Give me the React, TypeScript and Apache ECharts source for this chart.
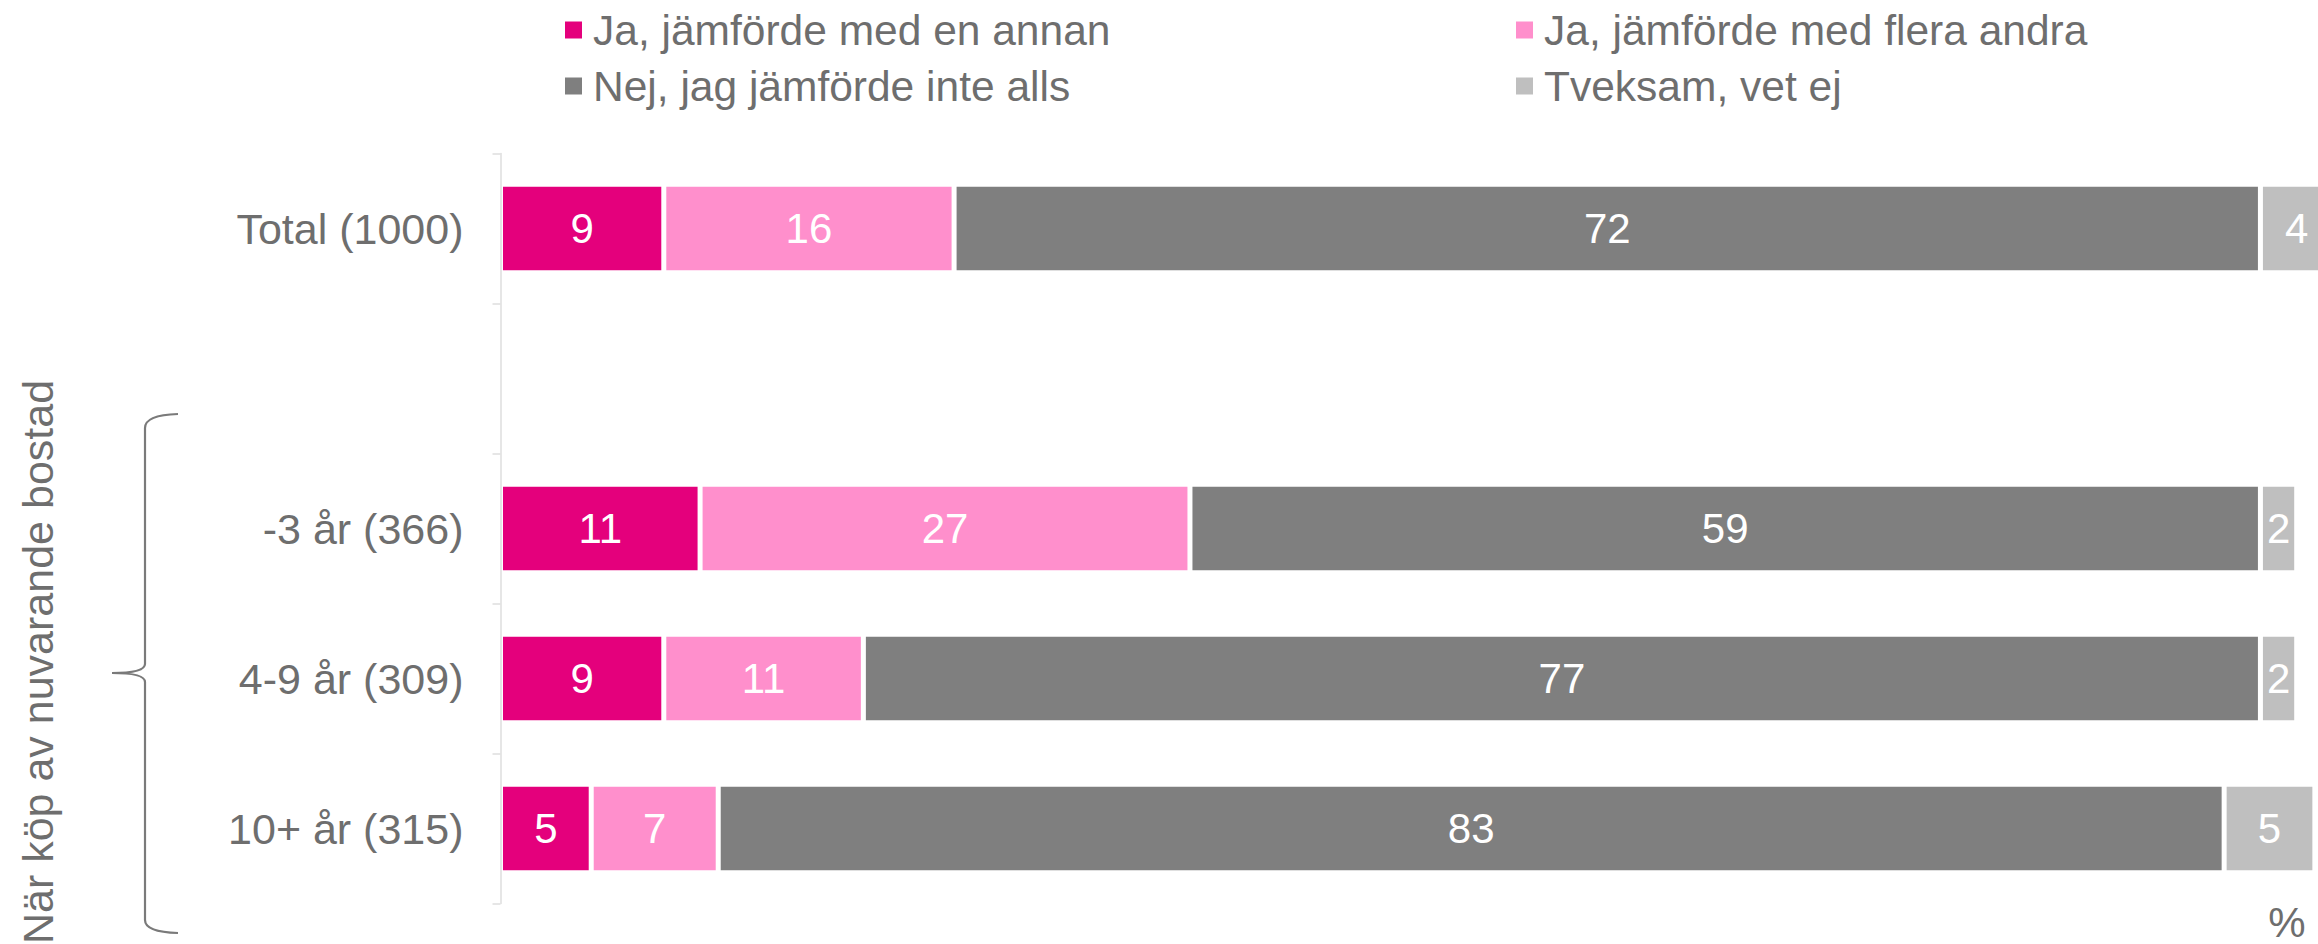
import React, { useEffect, useRef } from "react";
import * as echarts from "echarts";

const categories = ["Total (1000)", "", "-3 år (366)", "4-9 år (309)", "10+ år (315)"];
const seriesNames = [
  "Ja, jämförde med en annan",
  "Ja, jämförde med flera andra",
  "Nej, jag jämförde inte alls",
  "Tveksam, vet ej",
];
const jaEnAnnan = [9, null, 11, 9, 5];
const jaFleraAndra = [16, null, 27, 11, 7];
const nejInteAlls = [72, null, 59, 77, 83];
const tveksam = [4, null, 2, 2, 5];
const colors = ["#E4007C", "#FF8FCC", "#7F7F7F", "#BFBFBF"];
const axisTitle = "När köp av nuvarande bostad";
const unitLabel = "%";

const FONT = "'Liberation Sans', Arial, sans-serif";
const TEXT = "#6e6e6e";

export default function App() {
  const ref = useRef<HTMLDivElement>(null);
  useEffect(() => {
    if (!ref.current) return;
    const chart = echarts.init(ref.current, null, { renderer: "svg" });
    const values = [jaEnAnnan, jaFleraAndra, nejInteAlls, tveksam];
    const legendPos = [
      { left: 563, top: 6 },
      { left: 1514, top: 6 },
      { left: 563, top: 62 },
      { left: 1514, top: 62 },
    ];
    const braceStyle = { stroke: "#7a7a7a", lineWidth: 2.2, fill: "none" };
    chart.setOption({
      animation: false,
      textStyle: { fontFamily: FONT },
      legend: seriesNames.map((n, i) => ({
        data: [n],
        left: legendPos[i].left,
        top: legendPos[i].top,
        padding: 0,
        icon: "rect",
        itemWidth: 19,
        itemHeight: 19,
        selectedMode: false,
        textStyle: {
          fontSize: 42.5,
          lineHeight: 48,
          color: TEXT,
          fontFamily: FONT,
          padding: [0, 0, 0, 5],
        },
      })),
      grid: { left: 500.5, right: 7, top: 153.5, bottom: 40.5, containLabel: false },
      xAxis: {
        type: "value",
        min: 0,
        max: 101,
        show: false,
        splitLine: { show: false },
      },
      yAxis: {
        type: "category",
        inverse: true,
        data: categories,
        z: 5,
        axisLine: { show: true, lineStyle: { color: "#dedede", width: 1.5 } },
        axisTick: { show: true, length: 8, lineStyle: { color: "#dedede", width: 1.5 } },
        axisLabel: { fontSize: 43, color: TEXT, margin: 37, fontFamily: FONT },
      },
      series: seriesNames.map((n, i) => ({
        name: n,
        type: "bar",
        stack: "total",
        data: values[i],
        barWidth: 88.5,
        itemStyle: { color: colors[i], borderColor: "#ffffff", borderWidth: 2.5 },
        label: {
          show: true,
          position: "inside",
          color: "#ffffff",
          fontSize: 42,
          fontFamily: FONT,
        },
      })),
      graphic: [
        {
          type: "text",
          x: 38,
          y: 662,
          rotation: Math.PI / 2,
          style: {
            text: axisTitle,
            fontSize: 43,
            fontFamily: FONT,
            fill: TEXT,
            textAlign: "center",
            textVerticalAlign: "middle",
          },
        },
        {
          type: "text",
          x: 2287,
          y: 922,
          style: {
            text: unitLabel,
            fontSize: 42,
            fontFamily: FONT,
            fill: TEXT,
            textAlign: "center",
            textVerticalAlign: "middle",
          },
        },
        { type: "bezierCurve", shape: { x1: 178, y1: 414, cpx1: 145, cpy1: 415, x2: 145, y2: 428 }, style: braceStyle },
        { type: "line", shape: { x1: 145, y1: 428, x2: 145, y2: 664 }, style: braceStyle },
        { type: "bezierCurve", shape: { x1: 145, y1: 664, cpx1: 145, cpy1: 673, x2: 112, y2: 673 }, style: braceStyle },
        { type: "bezierCurve", shape: { x1: 112, y1: 673, cpx1: 145, cpy1: 673, x2: 145, y2: 682 }, style: braceStyle },
        { type: "line", shape: { x1: 145, y1: 682, x2: 145, y2: 920 }, style: braceStyle },
        { type: "bezierCurve", shape: { x1: 145, y1: 920, cpx1: 145, cpy1: 932, x2: 178, y2: 933 }, style: braceStyle },
      ],
    });
    return () => chart.dispose();
  }, []);
  return (
    <div
      style={{ position: "absolute", left: 0, top: 0, width: 2318, height: 944, overflow: "hidden", background: "#fff" }}
    >
      <div ref={ref} style={{ width: 2340, height: 944 }} />
    </div>
  );
}
